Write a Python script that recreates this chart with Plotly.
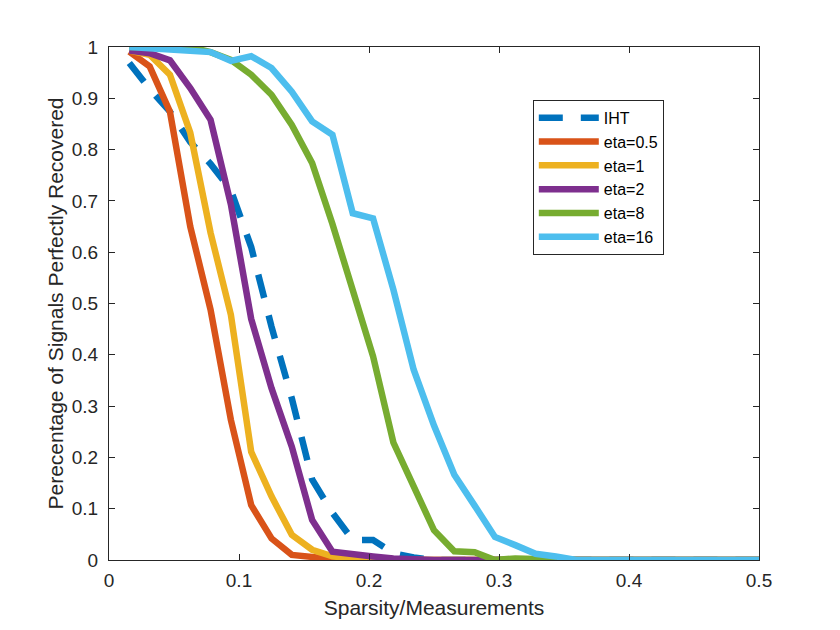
import plotly.graph_objects as go

# sparsity k / m with m = 64 measurements, k = 1..32
k_values = list(range(1, 33))
sparsity = [k / 64 for k in k_values]

iht = [0.969, 0.918, 0.874, 0.815, 0.772, 0.721, 0.61, 0.455, 0.315, 0.157,
       0.092, 0.039, 0.039, 0.013, 0.005, 0, 0, 0, 0, 0,
       0, 0, 0, 0, 0, 0, 0, 0, 0, 0, 0, 0]
eta_05 = [0.991, 0.962, 0.874, 0.65, 0.488, 0.273, 0.107, 0.042, 0.01, 0.005,
          0.002, 0, 0, 0, 0, 0, 0, 0, 0, 0,
          0, 0, 0, 0, 0, 0, 0, 0, 0, 0, 0, 0]
eta_1 = [0.993, 0.985, 0.946, 0.833, 0.638, 0.478, 0.211, 0.124, 0.049, 0.02,
         0.007, 0.003, 0, 0, 0, 0, 0, 0, 0, 0,
         0, 0, 0, 0, 0, 0, 0, 0, 0, 0, 0, 0]
eta_2 = [0.993, 0.988, 0.974, 0.92, 0.858, 0.693, 0.47, 0.335, 0.221, 0.078,
         0.016, 0.013, 0.007, 0.003, 0, 0, 0, 0, 0, 0,
         0, 0, 0, 0, 0, 0, 0, 0, 0, 0, 0, 0]
eta_8 = [1.0, 1.0, 1.0, 1.0, 0.99, 0.975, 0.946, 0.907, 0.848, 0.774,
         0.655, 0.527, 0.397, 0.229, 0.143, 0.058, 0.017, 0.015, 0, 0.003,
         0.002, 0, 0, 0, 0, 0, 0, 0, 0, 0, 0, 0]
eta_16 = [1.0, 0.998, 0.994, 0.992, 0.99, 0.973, 0.982, 0.959, 0.913, 0.855,
          0.829, 0.676, 0.666, 0.527, 0.371, 0.262, 0.166, 0.106, 0.045, 0.029,
          0.012, 0.007, 0, 0, 0, 0, 0, 0, 0, 0, 0, 0]

x_ticks = [0, 0.1, 0.2, 0.3, 0.4, 0.5]
x_labels = ['0', '0.1', '0.2', '0.3', '0.4', '0.5']
y_ticks = [i / 10 for i in range(11)]
y_labels = ['0', '0.1', '0.2', '0.3', '0.4', '0.5', '0.6', '0.7', '0.8', '0.9', '1']

series = [
    ('IHT', iht, '#0072BD', '24px,18px'),
    ('eta=0.5', eta_05, '#D95319', 'solid'),
    ('eta=1', eta_1, '#EDB120', 'solid'),
    ('eta=2', eta_2, '#7E2F8E', 'solid'),
    ('eta=8', eta_8, '#77AC30', 'solid'),
    ('eta=16', eta_16, '#4DBEEE', 'solid'),
]

fig = go.Figure()
for name, vals, color, dash in series:
    fig.add_trace(go.Scatter(x=sparsity, y=vals, name=name, mode='lines',
                             line=dict(color=color, width=6.5, dash=dash)))

axis_col = '#262626'
font = 'Liberation Sans, Arial, sans-serif'

# page body has an 8px margin, so the figure is a bit smaller than the window
fig.update_layout(
    width=832, height=622,
    margin=dict(l=101, r=81, t=39, b=70),
    paper_bgcolor='white', plot_bgcolor='white',
    font=dict(family=font, color=axis_col),
    showlegend=True,
    legend=dict(x=0.652, y=0.897, xanchor='left', yanchor='top',
                bgcolor='white', bordercolor=axis_col, borderwidth=1,
                font=dict(size=16, color='black'), itemwidth=60,
                tracegroupgap=0),
)
fig.update_xaxes(range=[0, 0.5], tickvals=x_ticks, ticktext=x_labels,
                 showline=True, mirror='ticks', linecolor=axis_col, linewidth=1,
                 ticks='inside', ticklen=6, tickcolor=axis_col, ticklabelstandoff=3,
                 tickfont=dict(size=19, color=axis_col), showgrid=False, zeroline=False,
                 title=dict(text='Sparsity/Measurements', font=dict(size=21, color=axis_col),
                            standoff=10))
fig.update_yaxes(range=[0, 1], tickvals=y_ticks, ticktext=y_labels,
                 showline=True, mirror='ticks', linecolor=axis_col, linewidth=1,
                 ticks='inside', ticklen=6, tickcolor=axis_col, ticklabelstandoff=6,
                 tickfont=dict(size=19, color=axis_col), showgrid=False, zeroline=False,
                 title=dict(text='Perecentage of Signals Perfectly Recovered',
                            font=dict(size=21, color=axis_col), standoff=2))

fig.write_html("out.html")
